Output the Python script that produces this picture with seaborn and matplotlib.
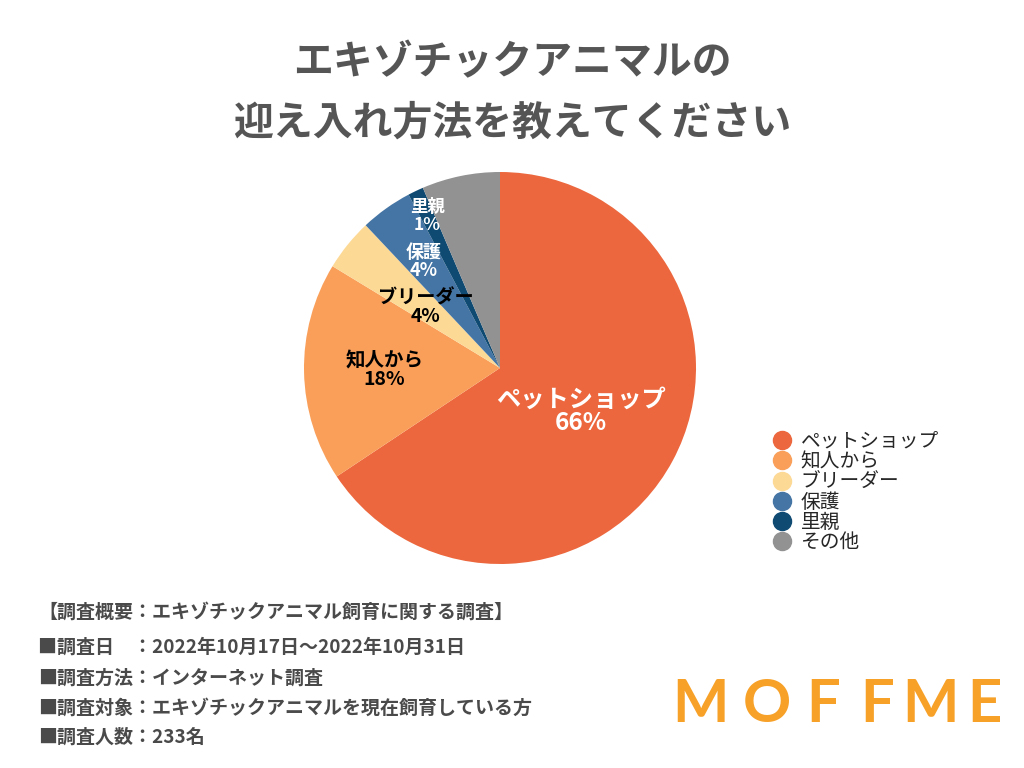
import numpy as np
import matplotlib
matplotlib.use("Agg")
import matplotlib.pyplot as plt
import seaborn as sns
from matplotlib.lines import Line2D

# Survey data (n = 233)
categories = ['ペットショップ', '知人から', 'ブリーダー', '保護', '里親', 'その他']
counts = [153, 42, 10, 10, 3, 15]
colors = ['#EC673D', '#F99F5A', '#FDD996', '#4575A4', '#0F4A73', '#929292']
label_colors = ['white', 'black', 'black', 'white', 'white', None]
label_sizes = [17.5, 14, 13.8, 13, 12.5, 0]
label_radius = [0.47, 0.59, 0.49, 0.67, 0.86, 0]

title_lines = ['エキゾチックアニマルの', '迎え入れ方法を教えてください']
footer_lines = ['【調査概要：エキゾチックアニマル飼育に関する調査】',
                '■調査日　：2022年10月17日〜2022年10月31日',
                '■調査方法：インターネット調査',
                '■調査対象：エキゾチックアニマルを現在飼育している方',
                '■調査人数：233名']
logo = 'MOFFME'
logo_x = [700, 767, 823, 877, 930, 984]

sns.set_theme(style='white')
plt.rcParams['font.family'] = ['Noto Sans CJK JP', 'DejaVu Sans']

fig = plt.figure(figsize=(10.24, 7.68), dpi=100)
fig.patch.set_facecolor('white')

# pie axes: center (500,368), radius 196 px
ax = fig.add_axes([(500 - 196) / 1024, (768 - 564) / 768, 392 / 1024, 392 / 768])
wedges, _ = ax.pie(counts, colors=colors, startangle=90, counterclock=False,
                   wedgeprops=dict(linewidth=0))
ax.set_xlim(-1, 1)
ax.set_ylim(-1, 1)
ax.set_aspect('equal')
ax.axis('off')

total = sum(counts)
for w, name, c, col, fs, r in zip(wedges, categories, counts, label_colors, label_sizes, label_radius):
    if col is None:
        continue
    mid = np.deg2rad((w.theta1 + w.theta2) / 2)
    pct = round(c / total * 100)
    ax.text(r * np.cos(mid), r * np.sin(mid), f'{name}\n{pct}%', color=col,
            fontsize=fs, fontweight='bold', ha='center', va='center', linespacing=0.95)

# title
fig.text(0.5, 1 - 63 / 768, title_lines[0], ha='center', va='center',
         fontsize=28.7, fontweight='bold', color='#555555')
fig.text(0.5, 1 - 123 / 768, title_lines[1], ha='center', va='center',
         fontsize=28.7, fontweight='bold', color='#555555')

# legend
handles = [Line2D([0], [0], marker='o', linestyle='', markersize=13,
                  markerfacecolor=c, markeredgecolor=c) for c in colors]
fig.legend(handles, categories, loc='upper left',
           bbox_to_anchor=(772 / 1024, 1 - 431 / 768), frameon=False,
           fontsize=14.2, handletextpad=0.45, labelspacing=-0.04,
           handlelength=1.0, borderpad=0, borderaxespad=0)

# footer
footer_y = [612, 647, 678, 708, 737]
for y, line in zip(footer_y, footer_lines):
    fig.text(38 / 1024, 1 - y / 768, line, ha='left', va='center',
             fontsize=13.7, fontweight='bold', color='#4a4a4a')

# logo
for x, ch in zip(logo_x, logo):
    fig.text(x / 1024, 1 - 705 / 768, ch, ha='center', va='center',
             fontsize=43, fontweight='bold', color='#F7A128', family='Lato')

fig.savefig('out.png', dpi=100)
